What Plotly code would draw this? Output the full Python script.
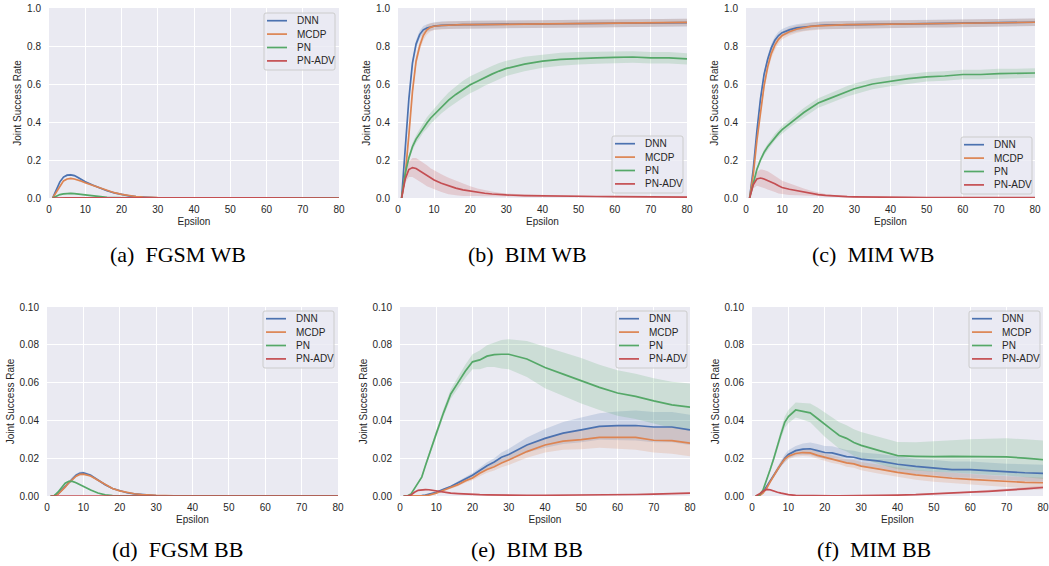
import plotly.graph_objects as go

# ---------------- data ----------------
X = [1, 2, 3, 4, 5, 6, 7, 8, 9, 10, 12, 14, 16, 18, 20, 22, 24, 26, 28, 30,
     35, 40, 45, 50, 55, 60, 65, 70, 75, 80]
SERIES = ["DNN", "MCDP", "PN", "PN-ADV"]
X_TICKS = [0, 10, 20, 30, 40, 50, 60, 70, 80]
Y_TICKS_WB = [0.0, 0.2, 0.4, 0.6, 0.8, 1.0]
Y_TICKS_BB = [0.00, 0.02, 0.04, 0.06, 0.08, 0.10]
CAPTIONS = ["(a)  FGSM WB", "(b)  BIM WB", "(c)  MIM WB",
            "(d)  FGSM BB", "(e)  BIM BB", "(f)  MIM BB"]

# (a) FGSM WB
a_dnn = [0, 0.04, 0.085, 0.11, 0.12, 0.122, 0.118, 0.108, 0.097, 0.085, 0.068, 0.052, 0.038, 0.027, 0.018,
         0.011, 0.007, 0.004, 0.002, 0.001, 0, 0, 0, 0, 0, 0, 0, 0, 0, 0]
a_dnn_s = [0, 0.003, 0.004, 0.005, 0.005, 0.005, 0.005, 0.005, 0.004, 0.004, 0.003, 0.003, 0.002, 0.002, 0.001,
           0.001, 0.001, 0, 0, 0, 0, 0, 0, 0, 0, 0, 0, 0, 0, 0]
a_mcdp = [0, 0.03, 0.065, 0.09, 0.1, 0.103, 0.1, 0.095, 0.088, 0.08, 0.066, 0.052, 0.039, 0.028, 0.019,
          0.012, 0.008, 0.005, 0.003, 0.002, 0.001, 0, 0, 0, 0, 0, 0, 0, 0, 0]
a_mcdp_s = [0, 0.003, 0.004, 0.004, 0.004, 0.004, 0.004, 0.004, 0.004, 0.003, 0.003, 0.003, 0.002, 0.002, 0.001,
            0.001, 0.001, 0, 0, 0, 0, 0, 0, 0, 0, 0, 0, 0, 0, 0]
a_pn = [0, 0.01, 0.018, 0.022, 0.024, 0.024, 0.023, 0.021, 0.018, 0.015, 0.01, 0.006, 0.003, 0.002, 0.001,
        0, 0, 0, 0, 0, 0, 0, 0, 0, 0, 0, 0, 0, 0, 0]
a_pn_s = [0, 0.002, 0.002, 0.003, 0.003, 0.003, 0.003, 0.002, 0.002, 0.002, 0.001, 0.001, 0.001, 0, 0,
          0, 0, 0, 0, 0, 0, 0, 0, 0, 0, 0, 0, 0, 0, 0]
a_adv = [0, 0.001, 0.001, 0.001, 0.001, 0.001, 0.001, 0.001, 0.001, 0.001, 0.0005, 0.0005, 0, 0, 0,
         0, 0, 0, 0, 0, 0, 0, 0, 0, 0, 0, 0, 0, 0, 0]
a_adv_s = [0, 0.001, 0.001, 0.001, 0.001, 0.001, 0.001, 0.001, 0.001, 0.001, 0, 0, 0, 0, 0,
           0, 0, 0, 0, 0, 0, 0, 0, 0, 0, 0, 0, 0, 0, 0]

# (b) BIM WB
b_dnn = [0, 0.25, 0.52, 0.71, 0.81, 0.86, 0.885, 0.895, 0.9, 0.905, 0.909, 0.911, 0.912, 0.912, 0.913,
         0.913, 0.913, 0.914, 0.914, 0.914, 0.915, 0.916, 0.917, 0.918, 0.918, 0.919, 0.92, 0.921, 0.922, 0.923]
b_dnn_s = [0, 0.01, 0.015, 0.02, 0.02, 0.02, 0.02, 0.02, 0.02, 0.02, 0.02, 0.02, 0.02, 0.02, 0.02,
           0.02, 0.02, 0.02, 0.02, 0.02, 0.02, 0.02, 0.02, 0.02, 0.02, 0.02, 0.02, 0.02, 0.02, 0.02]
b_mcdp = [0, 0.12, 0.33, 0.56, 0.72, 0.8, 0.855, 0.885, 0.898, 0.904, 0.908, 0.91, 0.911, 0.912, 0.912,
          0.913, 0.913, 0.913, 0.914, 0.914, 0.915, 0.916, 0.917, 0.918, 0.918, 0.919, 0.92, 0.921, 0.922, 0.924]
b_mcdp_s = [0, 0.01, 0.015, 0.02, 0.025, 0.025, 0.025, 0.025, 0.022, 0.02, 0.02, 0.02, 0.02, 0.02, 0.02,
            0.02, 0.02, 0.02, 0.02, 0.02, 0.02, 0.02, 0.02, 0.02, 0.02, 0.02, 0.02, 0.02, 0.02, 0.02]
b_pn = [0, 0.13, 0.21, 0.27, 0.31, 0.34, 0.37, 0.395, 0.42, 0.44, 0.48, 0.515, 0.545, 0.572, 0.596,
        0.615, 0.635, 0.652, 0.668, 0.682, 0.705, 0.72, 0.73, 0.735, 0.738, 0.74, 0.742, 0.738, 0.738, 0.732]
b_pn_s = [0, 0.01, 0.015, 0.02, 0.02, 0.025, 0.025, 0.03, 0.03, 0.03, 0.035, 0.04, 0.042, 0.045, 0.045,
          0.045, 0.044, 0.043, 0.042, 0.04, 0.038, 0.035, 0.034, 0.033, 0.032, 0.03, 0.03, 0.03, 0.03, 0.03]
b_adv = [0, 0.1, 0.15, 0.16, 0.155, 0.143, 0.13, 0.117, 0.105, 0.095, 0.078, 0.063, 0.052, 0.043, 0.036,
         0.03, 0.025, 0.021, 0.018, 0.016, 0.013, 0.011, 0.01, 0.009, 0.008, 0.007, 0.006, 0.006, 0.005, 0.005]
b_adv_s = [0, 0.02, 0.04, 0.05, 0.055, 0.055, 0.055, 0.055, 0.052, 0.05, 0.047, 0.043, 0.038, 0.032, 0.026,
           0.02, 0.016, 0.013, 0.01, 0.008, 0.006, 0.005, 0.004, 0.004, 0.003, 0.003, 0.003, 0.003, 0.003, 0.003]

# (c) MIM WB
c_dnn = [0, 0.15, 0.35, 0.52, 0.65, 0.73, 0.79, 0.83, 0.855, 0.87, 0.885, 0.895, 0.9, 0.905, 0.908,
         0.91, 0.911, 0.912, 0.912, 0.913, 0.914, 0.915, 0.916, 0.917, 0.918, 0.919, 0.92, 0.921, 0.923, 0.925]
c_dnn_s = [0, 0.01, 0.015, 0.02, 0.02, 0.02, 0.02, 0.02, 0.02, 0.02, 0.02, 0.02, 0.02, 0.02, 0.02,
           0.02, 0.02, 0.02, 0.02, 0.02, 0.02, 0.02, 0.02, 0.02, 0.02, 0.02, 0.02, 0.02, 0.02, 0.02]
c_mcdp = [0, 0.12, 0.3, 0.46, 0.59, 0.69, 0.76, 0.805, 0.835, 0.855, 0.875, 0.888, 0.897, 0.903, 0.906,
          0.908, 0.91, 0.911, 0.912, 0.912, 0.913, 0.915, 0.916, 0.917, 0.918, 0.919, 0.92, 0.921, 0.923, 0.925]
c_mcdp_s = [0, 0.01, 0.015, 0.02, 0.025, 0.025, 0.025, 0.025, 0.022, 0.02, 0.02, 0.02, 0.02, 0.02, 0.02,
            0.02, 0.02, 0.02, 0.02, 0.02, 0.02, 0.02, 0.02, 0.02, 0.02, 0.02, 0.02, 0.02, 0.02, 0.02]
c_pn = [0, 0.08, 0.15, 0.2, 0.24, 0.27, 0.295, 0.32, 0.34, 0.36, 0.39, 0.42, 0.45, 0.475, 0.5,
        0.515, 0.53, 0.548, 0.562, 0.575, 0.6, 0.615, 0.628, 0.638, 0.642, 0.65, 0.65, 0.655, 0.655, 0.658]
c_pn_s = [0, 0.008, 0.01, 0.012, 0.015, 0.015, 0.017, 0.018, 0.018, 0.02, 0.02, 0.022, 0.024, 0.025, 0.025,
          0.026, 0.027, 0.028, 0.028, 0.028, 0.028, 0.027, 0.026, 0.025, 0.025, 0.025, 0.025, 0.025, 0.025, 0.025]
c_adv = [0, 0.07, 0.1, 0.105, 0.1, 0.093, 0.083, 0.075, 0.064, 0.055, 0.046, 0.038, 0.031, 0.024, 0.018,
         0.014, 0.011, 0.009, 0.007, 0.006, 0.004, 0.003, 0.003, 0.002, 0.002, 0.002, 0.002, 0.002, 0.002, 0.002]
c_adv_s = [0, 0.02, 0.035, 0.045, 0.048, 0.048, 0.046, 0.043, 0.04, 0.036, 0.03, 0.024, 0.019, 0.014, 0.01,
           0.007, 0.005, 0.004, 0.003, 0.003, 0.002, 0.002, 0.002, 0.002, 0.002, 0.002, 0.002, 0.002, 0.002, 0.002]

# (d) FGSM BB
d_dnn = [0, 0.0001, 0.001, 0.003, 0.005, 0.0075, 0.0095, 0.011, 0.012, 0.0122, 0.011, 0.0085, 0.006, 0.004, 0.0027,
         0.0017, 0.0011, 0.0007, 0.0004, 0.0002, 0.0001, 0, 0, 0, 0, 0, 0, 0, 0, 0]
d_dnn_s = [0, 0, 0.0002, 0.0004, 0.0005, 0.0006, 0.0007, 0.0008, 0.0008, 0.0008, 0.0007, 0.0006, 0.0005, 0.0004, 0.0003,
           0.0002, 0.0002, 0.0001, 0.0001, 0, 0, 0, 0, 0, 0, 0, 0, 0, 0, 0]
d_mcdp = [0, 0.0001, 0.0009, 0.0027, 0.0047, 0.007, 0.009, 0.0105, 0.0114, 0.0116, 0.0106, 0.0083, 0.0059, 0.004, 0.0027,
          0.0018, 0.0012, 0.0008, 0.0005, 0.0003, 0.0001, 0, 0, 0, 0, 0, 0, 0, 0, 0]
d_mcdp_s = [0, 0, 0.0002, 0.0003, 0.0004, 0.0005, 0.0006, 0.0006, 0.0006, 0.0006, 0.0006, 0.0005, 0.0004, 0.0003, 0.0002,
            0.0002, 0.0001, 0.0001, 0, 0, 0, 0, 0, 0, 0, 0, 0, 0, 0, 0]
d_pn = [0, 0.0002, 0.002, 0.0045, 0.0068, 0.0078, 0.0077, 0.007, 0.006, 0.005, 0.0032, 0.0016, 0.0006, 0.0002, 0.0001,
        0, 0, 0, 0, 0, 0, 0, 0, 0, 0, 0, 0, 0, 0, 0]
d_pn_s = [0, 0, 0.0002, 0.0003, 0.0003, 0.0003, 0.0003, 0.0003, 0.0003, 0.0003, 0.0002, 0.0001, 0.0001, 0, 0,
          0, 0, 0, 0, 0, 0, 0, 0, 0, 0, 0, 0, 0, 0, 0]
d_adv = [0] * 30
d_adv_s = [0] * 30

# (e) BIM BB
e_dnn = [0, 0, 0, 0, 0, 0.0002, 0.0005, 0.001, 0.0015, 0.002, 0.0035, 0.005, 0.007, 0.009, 0.011,
         0.0135, 0.016, 0.018, 0.0205, 0.022, 0.027, 0.0305, 0.0333, 0.035, 0.0368, 0.0372, 0.0373, 0.0365, 0.0365, 0.035]
e_dnn_s = [0, 0, 0, 0, 0, 0, 0.0001, 0.0002, 0.0003, 0.0003, 0.0005, 0.0006, 0.0008, 0.001, 0.0012,
           0.0015, 0.0018, 0.002, 0.0025, 0.003, 0.004, 0.005, 0.0058, 0.0065, 0.007, 0.0075, 0.008, 0.008, 0.008, 0.008]
e_mcdp = [0, 0, 0, 0, 0, 0, 0.0002, 0.0005, 0.001, 0.0015, 0.003, 0.0045, 0.006, 0.008, 0.0095,
          0.012, 0.014, 0.0155, 0.0175, 0.019, 0.0235, 0.027, 0.029, 0.0298, 0.031, 0.031, 0.031, 0.0295, 0.0293, 0.028]
e_mcdp_s = [0, 0, 0, 0, 0, 0, 0.0001, 0.0002, 0.0003, 0.0003, 0.0005, 0.0006, 0.0008, 0.001, 0.0012,
            0.0015, 0.0017, 0.002, 0.0023, 0.0026, 0.0033, 0.004, 0.0045, 0.005, 0.0055, 0.006, 0.0065, 0.0065, 0.007, 0.007]
e_pn = [0, 0, 0.001, 0.004, 0.007, 0.01, 0.016, 0.022, 0.028, 0.033, 0.044, 0.054, 0.06, 0.066, 0.071,
        0.072, 0.074, 0.0748, 0.075, 0.075, 0.0725, 0.068, 0.0645, 0.061, 0.0575, 0.0545, 0.0527, 0.0503, 0.0482, 0.047]
e_pn_s = [0, 0, 0.0002, 0.0004, 0.0006, 0.0008, 0.001, 0.0012, 0.0014, 0.0016, 0.002, 0.0025, 0.003, 0.0035, 0.004,
          0.005, 0.0058, 0.0065, 0.0075, 0.008, 0.0095, 0.011, 0.0115, 0.012, 0.012, 0.012, 0.012, 0.012, 0.0122, 0.0125]
e_adv = [0, 0, 0.0005, 0.002, 0.003, 0.0033, 0.0034, 0.0033, 0.003, 0.0025, 0.0018, 0.0015, 0.0013, 0.001, 0.0008,
         0.0007, 0.0006, 0.0005, 0.0005, 0.0004, 0.0004, 0.0004, 0.0004, 0.0005, 0.0006, 0.0007, 0.0008, 0.001, 0.0013, 0.0015]
e_adv_s = [0, 0, 0.0001, 0.0002, 0.0003, 0.0003, 0.0003, 0.0003, 0.0003, 0.0003, 0.0002, 0.0002, 0.0002, 0.0002, 0.0001,
           0.0001, 0.0001, 0.0001, 0.0001, 0.0001, 0.0001, 0.0001, 0.0001, 0.0001, 0.0001, 0.0002, 0.0002, 0.0002, 0.0003, 0.0003]

# (f) MIM BB
f_dnn = [0, 0.0002, 0.002, 0.005, 0.008, 0.011, 0.0145, 0.0175, 0.02, 0.022, 0.024, 0.0248, 0.025, 0.024, 0.023,
         0.0228, 0.022, 0.0208, 0.0205, 0.0195, 0.0185, 0.0168, 0.0157, 0.015, 0.014, 0.014, 0.0133, 0.0127, 0.0123, 0.012]
f_dnn_s = [0, 0, 0.0003, 0.0006, 0.001, 0.0012, 0.0015, 0.0018, 0.002, 0.0022, 0.0025, 0.003, 0.0033, 0.0035, 0.0035,
           0.0035, 0.0035, 0.0035, 0.0035, 0.0035, 0.0037, 0.004, 0.004, 0.004, 0.0042, 0.0043, 0.0043, 0.0044, 0.0045, 0.0045]
f_mcdp = [0, 0.0001, 0.0015, 0.004, 0.0075, 0.011, 0.014, 0.017, 0.0195, 0.021, 0.0225, 0.023, 0.0228, 0.0215, 0.0205,
          0.0195, 0.0188, 0.0175, 0.017, 0.0158, 0.0142, 0.0125, 0.0112, 0.0102, 0.0094, 0.0088, 0.0082, 0.0075, 0.0072, 0.007]
f_mcdp_s = [0, 0, 0.0003, 0.0005, 0.0008, 0.001, 0.0012, 0.0014, 0.0015, 0.0016, 0.0017, 0.0018, 0.0019, 0.002, 0.002,
            0.002, 0.002, 0.002, 0.0021, 0.0022, 0.0024, 0.0025, 0.0026, 0.0027, 0.0027, 0.0028, 0.0028, 0.0028, 0.0028, 0.0028]
f_pn = [0, 0.0005, 0.003, 0.008, 0.014, 0.02, 0.027, 0.033, 0.039, 0.042, 0.0455, 0.0448, 0.044, 0.041, 0.0378,
        0.035, 0.032, 0.0305, 0.0283, 0.0268, 0.024, 0.0214, 0.021, 0.0208, 0.021, 0.021, 0.0207, 0.0207, 0.02, 0.0192]
f_pn_s = [0, 0.0001, 0.0004, 0.0008, 0.0012, 0.0015, 0.002, 0.0025, 0.003, 0.0035, 0.004, 0.0045, 0.005, 0.0058, 0.0065,
          0.0068, 0.007, 0.007, 0.007, 0.007, 0.0072, 0.0072, 0.0075, 0.008, 0.0085, 0.009, 0.0095, 0.0098, 0.01, 0.0102]
f_adv = [0, 0.001, 0.0025, 0.0035, 0.0033, 0.0025, 0.002, 0.0015, 0.001, 0.0007, 0.0003, 0.0002, 0.0001, 0.0001, 0.0001,
         0.0001, 0.0001, 0.0001, 0.0002, 0.0002, 0.0003, 0.0005, 0.0007, 0.001, 0.0015, 0.002, 0.0025, 0.0033, 0.0038, 0.0045]
f_adv_s = [0, 0.0002, 0.0003, 0.0004, 0.0004, 0.0003, 0.0003, 0.0002, 0.0002, 0.0001, 0.0001, 0.0001, 0, 0, 0,
           0, 0, 0, 0, 0, 0.0001, 0.0001, 0.0002, 0.0003, 0.0004, 0.0005, 0.0006, 0.0007, 0.0008, 0.0009]

PANELS = [
    [(a_dnn, a_dnn_s), (a_mcdp, a_mcdp_s), (a_pn, a_pn_s), (a_adv, a_adv_s)],
    [(b_dnn, b_dnn_s), (b_mcdp, b_mcdp_s), (b_pn, b_pn_s), (b_adv, b_adv_s)],
    [(c_dnn, c_dnn_s), (c_mcdp, c_mcdp_s), (c_pn, c_pn_s), (c_adv, c_adv_s)],
    [(d_dnn, d_dnn_s), (d_mcdp, d_mcdp_s), (d_pn, d_pn_s), (d_adv, d_adv_s)],
    [(e_dnn, e_dnn_s), (e_mcdp, e_mcdp_s), (e_pn, e_pn_s), (e_adv, e_adv_s)],
    [(f_dnn, f_dnn_s), (f_mcdp, f_mcdp_s), (f_pn, f_pn_s), (f_adv, f_adv_s)],
]

# ---------------- style ----------------
W, H = 1049, 566
COLORS = ["#4C72B0", "#DD8452", "#55A868", "#C44E52"]
FILLS = ["rgba(76,114,176,0.2)", "rgba(221,132,82,0.2)", "rgba(85,168,104,0.2)", "rgba(196,78,82,0.2)"]
BG = "#EAEAF2"
TXT = "#262626"
SANS = "Liberation Sans, Arial, sans-serif"
SERIF = "Liberation Serif, Times New Roman, serif"

# plot-area pixel boxes (left, right, top, bottom)
BOXES = [(49, 339, 8, 198), (398, 687, 8, 198), (746, 1035, 8, 198),
         (47, 338, 307, 496), (400, 690, 307, 496), (752, 1043, 307, 496)]
# legend box top-left pixel
LEGENDS = [(264, 13), (612, 136), (961, 137), (263, 311), (616, 311), (969, 311)]
LEG_W, LEG_H = 71, 57
CAP_POS = [(178, 254), (527, 254), (873, 254), (177, 549), (527, 549), (874, 549)]


def px(x):
    return x / W


def py(y):
    return 1 - y / H


fig = go.Figure()
shapes = []
annotations = []
layout = dict(
    width=W, height=H, margin=dict(l=0, r=0, t=0, b=0),
    paper_bgcolor="white", plot_bgcolor=BG, showlegend=False,
    font=dict(family=SANS, size=10, color=TXT),
)

for p, panel in enumerate(PANELS):
    n = p + 1
    xa = "x" if n == 1 else f"x{n}"
    ya = "y" if n == 1 else f"y{n}"
    for s, (vals, spr) in enumerate(panel):
        lo = [max(v - d, 0) for v, d in zip(vals, spr)]
        hi = [v + d for v, d in zip(vals, spr)]
        fig.add_trace(go.Scatter(
            x=X + X[::-1], y=hi + lo[::-1], xaxis=xa, yaxis=ya,
            fill="toself", fillcolor=FILLS[s], line=dict(width=0),
            mode="lines", showlegend=False, hoverinfo="skip"))
    for s, (vals, spr) in enumerate(panel):
        fig.add_trace(go.Scatter(
            x=X, y=vals, xaxis=xa, yaxis=ya, mode="lines", name=SERIES[s],
            line=dict(color=COLORS[s], width=1.7)))

    l, r, t, b = BOXES[p]
    wb = p < 3
    axx = dict(domain=[px(l), px(r)], anchor=ya, range=[0, 80], tickvals=X_TICKS,
               automargin=False, showgrid=True, gridcolor="white", gridwidth=1, zeroline=False,
               showline=False, ticks="", ticklabelstandoff=4, tickfont=dict(size=10, color=TXT),
               title=dict(text="Epsilon", font=dict(size=10, color=TXT), standoff=3))
    axy = dict(domain=[py(b), py(t)], anchor=xa,
               range=[0, 1.0] if wb else [0, 0.10],
               tickvals=Y_TICKS_WB if wb else Y_TICKS_BB,
               tickformat=".1f" if wb else ".2f",
               automargin=False, showgrid=True, gridcolor="white", gridwidth=1, zeroline=False,
               showline=False, ticks="", ticklabelstandoff=7, tickfont=dict(size=10, color=TXT),
               title=dict(text="Joint Success Rate", font=dict(size=10, color=TXT), standoff=3))
    layout["xaxis" if n == 1 else f"xaxis{n}"] = axx
    layout["yaxis" if n == 1 else f"yaxis{n}"] = axy

    # legend (drawn as a framed box, like matplotlib's)
    bx, by = LEGENDS[p]
    rr = 2
    x0, x1, y0, y1 = bx, bx + LEG_W, by, by + LEG_H
    path = (f"M {px(x0 + rr)},{py(y0)} L {px(x1 - rr)},{py(y0)} "
            f"Q {px(x1)},{py(y0)} {px(x1)},{py(y0 + rr)} L {px(x1)},{py(y1 - rr)} "
            f"Q {px(x1)},{py(y1)} {px(x1 - rr)},{py(y1)} L {px(x0 + rr)},{py(y1)} "
            f"Q {px(x0)},{py(y1)} {px(x0)},{py(y1 - rr)} L {px(x0)},{py(y0 + rr)} "
            f"Q {px(x0)},{py(y0)} {px(x0 + rr)},{py(y0)} Z")
    shapes.append(dict(type="path", path=path, xref="paper", yref="paper",
                       fillcolor="rgba(234,234,242,0.8)", line=dict(color="#CCCCCC", width=1),
                       layer="above"))
    for s, name in enumerate(SERIES):
        ey = by + 7.7 + 13.4 * s
        shapes.append(dict(type="line", xref="paper", yref="paper",
                           x0=px(bx + 3), x1=px(bx + 23), y0=py(ey), y1=py(ey),
                           line=dict(color=COLORS[s], width=1.7), layer="above"))
        annotations.append(dict(text=name, x=px(bx + 31), y=py(ey), xref="paper", yref="paper",
                                showarrow=False, xanchor="left", yanchor="middle",
                                font=dict(size=10, color=TXT)))

    cx, cy = CAP_POS[p]
    annotations.append(dict(
        text=CAPTIONS[p], x=px(cx), y=py(cy), xref="paper", yref="paper",
        showarrow=False, xanchor="center", yanchor="middle",
        font=dict(family=SERIF, size=22, color="black")))

layout["shapes"] = shapes
layout["annotations"] = annotations
fig.update_layout(**layout)
# remove the browser's default 8px page margin so the figure sits at the window origin
fig.write_html("out.html",
               config={"displayModeBar": False},
               post_script="document.body.style.margin='0px';document.body.style.overflow='hidden';")
